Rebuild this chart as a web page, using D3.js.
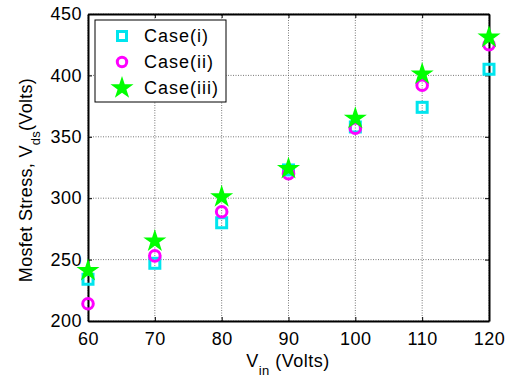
<!DOCTYPE html>
<html>
<head>
<meta charset="utf-8">
<script src="https://cdn.jsdelivr.net/npm/d3@7"></script>
<style>
  body { margin: 0; background: #fff; }
  text { font-family: Arial, "Liberation Sans", sans-serif; }
</style>
</head>
<body>
<svg id="svg" width="512" height="378"></svg>
<script>
// input voltage (V) and mosfet stress (V) per case
let vin = [60, 70, 80, 90, 100, 110, 120];
let case1 = [234, 247, 280, 323, 358, 374, 405];
let case2 = [214, 253, 289, 320, 357, 392, 425];
let case3 = [241, 265, 301, 324, 365, 401, 431];
let xTicks = [60, 70, 80, 90, 100, 110, 120];
let yTicks = [200, 250, 300, 350, 400, 450];

let margin = {left: 88, right: 23, top: 14, bottom: 57};
let W = 512, H = 378;

let svg = d3.select("#svg");

let x = d3.scaleLinear().domain([60, 120]).range([margin.left, W - margin.right]);
let y = d3.scaleLinear().domain([200, 450]).range([H - margin.bottom, margin.top]);

// grid
let grid = svg.append("g");
grid.selectAll("line.gx").data(xTicks).enter().append("line")
  .attr("x1", d => x(d)).attr("x2", d => x(d))
  .attr("y1", y(200)).attr("y2", y(450))
  .attr("stroke", "#555").attr("stroke-width", 0.8).attr("stroke-dasharray", "1,1.5");
grid.selectAll("line.gy").data(yTicks).enter().append("line")
  .attr("y1", d => y(d)).attr("y2", d => y(d))
  .attr("x1", x(60)).attr("x2", x(120))
  .attr("stroke", "#555").attr("stroke-width", 0.8).attr("stroke-dasharray", "1,1.5");

// axes (ticks inward), plus the box
let xAxis = svg.append("g").attr("transform", `translate(0,${y(200)})`)
  .call(d3.axisBottom(x).tickValues(xTicks).tickSizeInner(-4).tickSizeOuter(0).tickPadding(11));
let yAxis = svg.append("g").attr("transform", `translate(${x(60)},0)`)
  .call(d3.axisLeft(y).tickValues(yTicks).tickSizeInner(-4).tickSizeOuter(0).tickPadding(6));
svg.append("g").attr("transform", `translate(0,${y(450)})`)
  .call(d3.axisTop(x).tickValues(xTicks).tickSizeInner(-4).tickSizeOuter(0).tickFormat(""));
svg.append("g").attr("transform", `translate(${x(120)},0)`)
  .call(d3.axisRight(y).tickValues(yTicks).tickSizeInner(-4).tickSizeOuter(0).tickFormat(""));

svg.selectAll(".domain").attr("stroke", "#000").attr("stroke-width", 2);
svg.selectAll(".tick line").attr("stroke", "#000");
svg.selectAll(".tick text").attr("font-size", 18).attr("fill", "#000")
  .attr("letter-spacing", 0.5)
  .attr("font-family", "Arial, 'Liberation Sans', sans-serif");
xAxis.selectAll(".tick text").attr("dy", "0.71em");

// markers
function drawSquares(g, xs, ys) {
  g.selectAll("rect").data(xs).enter().append("rect")
    .attr("x", (d, i) => x(d) - 5).attr("y", (d, i) => y(ys[i]) - 5)
    .attr("width", 10).attr("height", 10)
    .attr("fill", "none").attr("stroke", "#00e5ee").attr("stroke-width", 3);
}
function drawCircles(g, xs, ys) {
  g.selectAll("circle").data(xs).enter().append("circle")
    .attr("cx", d => x(d)).attr("cy", (d, i) => y(ys[i])).attr("r", 5.3)
    .attr("fill", "none").attr("stroke", "#ff00ff").attr("stroke-width", 3);
}
let star = d3.symbol().type(d3.symbolStar).size(165);
function drawStars(g, xs, ys) {
  g.selectAll("path").data(xs).enter().append("path")
    .attr("d", star)
    .attr("transform", (d, i) => `translate(${x(d)},${y(ys[i])})`)
    .attr("fill", "#00ff00");
}

drawSquares(svg.append("g"), vin, case1);
drawCircles(svg.append("g"), vin, case2);
drawStars(svg.append("g"), vin, case3);

// legend
let lg = svg.append("g");
lg.append("rect").attr("x", 95).attr("y", 20).attr("width", 131).attr("height", 82)
  .attr("fill", "#fff").attr("stroke", "#000").attr("stroke-width", 1);
let labels = ["Case(i)", "Case(ii)", "Case(iii)"];
let ly = [36, 62, 88];
lg.append("rect").attr("x", 117.5).attr("y", ly[0] - 4.5).attr("width", 9).attr("height", 9)
  .attr("fill", "none").attr("stroke", "#00e5ee").attr("stroke-width", 3);
lg.append("circle").attr("cx", 122).attr("cy", ly[1]).attr("r", 4.7)
  .attr("fill", "none").attr("stroke", "#ff00ff").attr("stroke-width", 3);
lg.append("path").attr("d", star).attr("transform", `translate(122,${ly[2]})`).attr("fill", "#00ff00");
lg.selectAll("text").data(labels).enter().append("text")
  .attr("x", 144).attr("y", (d, i) => ly[i]).attr("dy", "0.36em")
  .attr("font-size", 18).attr("letter-spacing", 1).text(d => d);

// axis titles
let xt = svg.append("text").attr("x", 288).attr("y", 367).attr("text-anchor", "middle")
  .attr("font-size", 18).attr("letter-spacing", 0.5);
xt.append("tspan").text("V");
xt.append("tspan").attr("dy", 8).attr("font-size", 13).text("in");
xt.append("tspan").attr("dy", -8).text(" (Volts)");

let yt = svg.append("text").attr("transform", "translate(32,180) rotate(-90)")
  .attr("text-anchor", "middle").attr("font-size", 18).attr("letter-spacing", 0.3);
yt.append("tspan").text("Mosfet Stress, V");
yt.append("tspan").attr("dy", 8).attr("font-size", 13).text("ds");
yt.append("tspan").attr("dy", -8).text("(Volts)");
</script>
</body>
</html>
